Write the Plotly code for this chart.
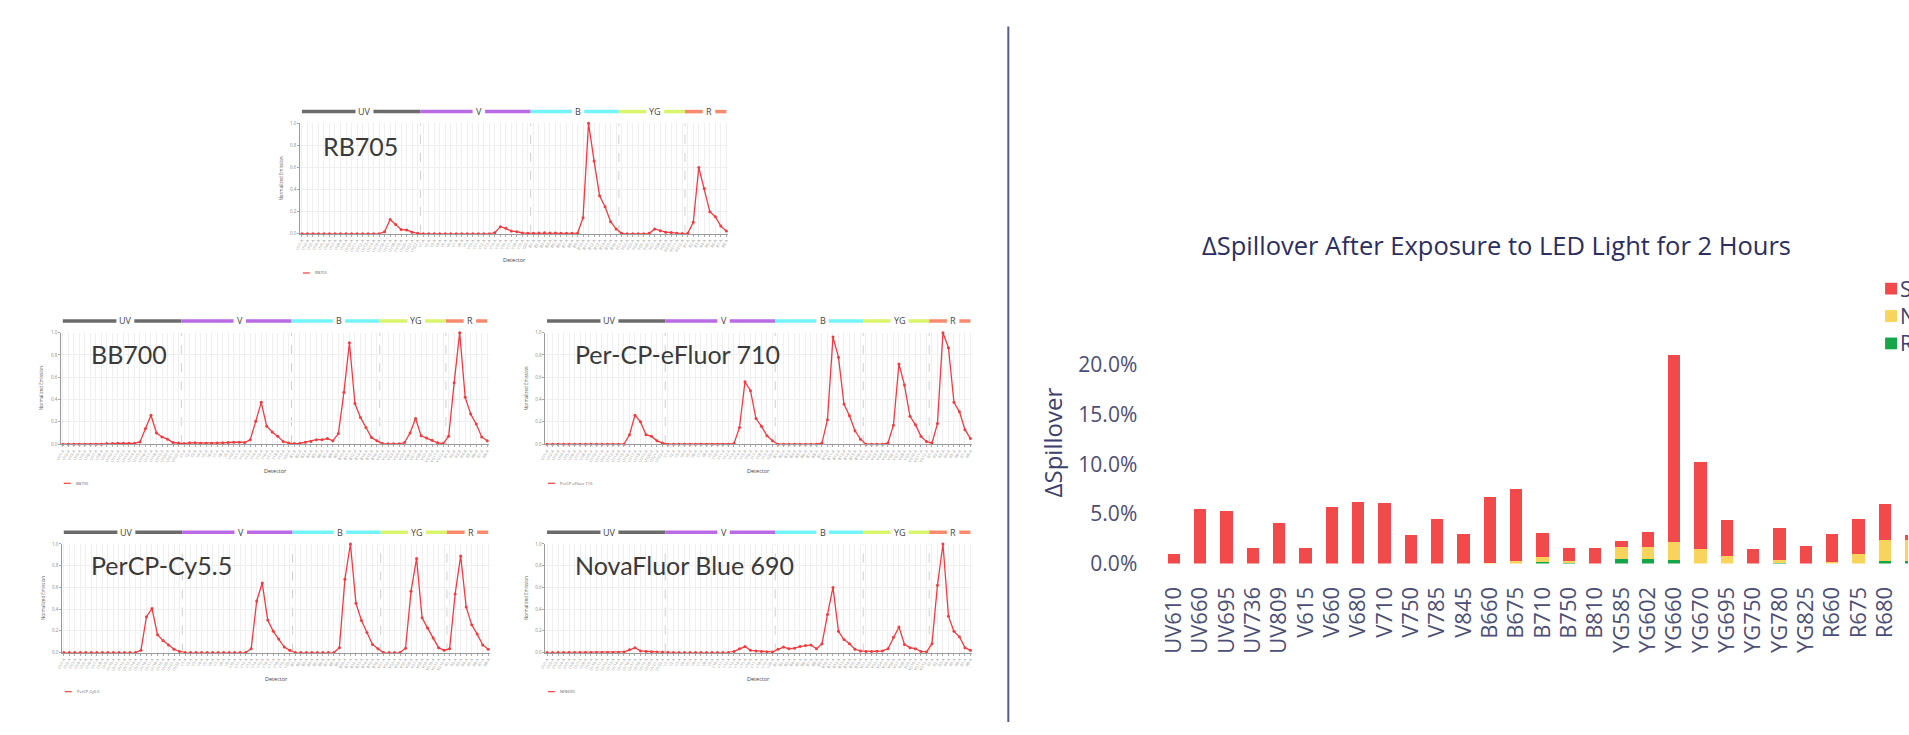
import plotly.graph_objects as go

W, H = 1909, 735

# ---------------- data: spectral signatures ----------------
laser_names = ["UV", "V", "B", "YG", "R"]
laser_counts = [22, 20, 16, 12, 8]
detector_labels = [f"{n}{i}-A" for n, c in zip(laser_names, laser_counts) for i in range(1, c + 1)]

rb705 = [0, 0, 0, 0, 0, 0, 0, 0, 0, 0, 0, 0, 0, 0, 0, 0.02, 0.13, 0.085, 0.04, 0.035, 0.015, 0.005,
         0, 0, 0, 0, 0, 0, 0, 0, 0, 0, 0, 0, 0, 0.01, 0.065, 0.05, 0.025, 0.02, 0.008, 0.005,
         0.005, 0.008, 0.01, 0.008, 0.008, 0.005, 0.005, 0.005, 0.005, 0.145, 1.0, 0.66, 0.345, 0.245, 0.11, 0.045,
         0.005, 0, 0, 0, 0, 0.005, 0.045, 0.028, 0.015, 0.012, 0.005, 0.003,
         0.005, 0.105, 0.60, 0.41, 0.20, 0.155, 0.07, 0.025]
bb700 = [0, 0, 0, 0, 0, 0, 0, 0, 0.005, 0.005, 0.008, 0.008, 0.008, 0.008, 0.02, 0.14, 0.26, 0.10, 0.065, 0.045, 0.015, 0.01,
         0.005, 0.012, 0.012, 0.008, 0.008, 0.008, 0.01, 0.012, 0.015, 0.018, 0.018, 0.015, 0.04, 0.205, 0.375, 0.16, 0.11, 0.07, 0.025, 0.01,
         0.005, 0.008, 0.018, 0.025, 0.04, 0.04, 0.05, 0.03, 0.095, 0.465, 0.91, 0.365, 0.24, 0.15, 0.06, 0.03,
         0.005, 0.003, 0.003, 0.003, 0.015, 0.10, 0.23, 0.075, 0.055, 0.035, 0.012, 0.005,
         0.07, 0.55, 1.0, 0.42, 0.27, 0.18, 0.065, 0.03]
percp_ef710 = [0, 0, 0, 0, 0, 0, 0, 0, 0, 0, 0, 0, 0, 0, 0, 0.085, 0.26, 0.20, 0.085, 0.07, 0.03, 0.01,
               0, 0, 0, 0, 0, 0, 0, 0, 0, 0, 0, 0, 0.005, 0.15, 0.56, 0.48, 0.23, 0.16, 0.075, 0.03,
               0, 0, 0, 0, 0, 0, 0, 0, 0.01, 0.22, 0.96, 0.78, 0.36, 0.255, 0.12, 0.045,
               0, 0, 0, 0, 0.01, 0.17, 0.72, 0.53, 0.25, 0.175, 0.07, 0.025,
               0.01, 0.185, 1.0, 0.865, 0.375, 0.29, 0.13, 0.05]
percp_cy55 = [0, 0, 0, 0, 0, 0, 0, 0, 0, 0, 0, 0, 0, 0, 0.02, 0.33, 0.405, 0.165, 0.11, 0.07, 0.03, 0.01,
              0, 0, 0, 0, 0, 0, 0, 0, 0, 0, 0, 0, 0.035, 0.475, 0.64, 0.30, 0.195, 0.125, 0.05, 0.02,
              0, 0, 0, 0, 0, 0, 0, 0, 0.045, 0.675, 1.0, 0.455, 0.295, 0.185, 0.075, 0.035,
              0, 0, 0, 0, 0.04, 0.565, 0.865, 0.32, 0.225, 0.135, 0.045, 0.02,
              0.035, 0.54, 0.89, 0.42, 0.255, 0.17, 0.07, 0.03]
nf_blue690 = [0, 0, 0, 0, 0, 0, 0, 0, 0, 0, 0, 0, 0, 0, 0.005, 0.025, 0.045, 0.015, 0.01, 0.008, 0.005, 0.003,
              0, 0, 0, 0, 0, 0, 0, 0, 0, 0, 0, 0, 0.01, 0.035, 0.055, 0.02, 0.015, 0.01, 0.005, 0.005,
              0.03, 0.05, 0.035, 0.04, 0.055, 0.065, 0.07, 0.035, 0.08, 0.35, 0.60, 0.195, 0.12, 0.08, 0.03, 0.015,
              0.01, 0.01, 0.012, 0.015, 0.035, 0.14, 0.235, 0.075, 0.045, 0.035, 0.01, 0.005,
              0.08, 0.62, 1.0, 0.335, 0.195, 0.145, 0.045, 0.02]

# ---------------- data: spillover bar chart (percent) ----------------
bar_detectors = ["UV610", "UV660", "UV695", "UV736", "UV809", "V615", "V660", "V680", "V710", "V750",
                 "V785", "V845", "B660", "B675", "B710", "B750", "B810", "YG585", "YG602", "YG660",
                 "YG670", "YG695", "YG750", "YG780", "YG825", "R660", "R675", "R680", "R710"]
green_part = [0, 0, 0, 0, 0, 0, 0, 0, 0, 0, 0, 0, 0, 0, 0.2, 0.1, 0, 0.5, 0.5, 0.4,
              0, 0, 0, 0.1, 0, 0, 0, 0.3, 0.3]
yellow_part = [0, 0, 0, 0, 0, 0, 0, 0, 0, 0, 0, 0, 0.1, 0.25, 0.45, 0.2, 0, 1.2, 1.15, 1.75,
               1.45, 0.8, 0, 0.25, 0, 0.2, 0.95, 2.1, 2.1]
red_part = [1.0, 5.45, 5.3, 1.55, 4.05, 1.6, 5.7, 6.15, 6.1, 2.9, 4.45, 3.0, 6.6, 7.3, 2.45, 1.25, 1.55, 0.55, 1.5, 18.85,
            8.75, 3.55, 1.5, 3.25, 1.75, 2.75, 3.55, 3.6, 0.5]
series_names = ["Sensitive", "Neutral", "Resistant"]
series_colors = ["#f24a4a", "#f8d45c", "#16a64a"]
y_ticks = [0, 5, 10, 15, 20]

# ---------------- helpers ----------------
def xp(px):
    return px / W


def yp(py):
    return 1 - py / H


FONT = "Open Sans, Noto Sans, sans-serif"
LINE_RED = "#f23b3f"
NAVY = "#3d406c"
band_colors = ["#6b6b6b", "#b96ae4", "#72f4fa", "#d9f56c", "#f98b6c"]

fig = go.Figure()
shapes = []
annotations = []

panels = [
    dict(name="RB705", vals=rb705, x0=297, x1=723, ytop=123, ybot=236, lx=316, ly=146),
    dict(name="BB700", vals=bb700, x0=57, x1=483, ytop=337, ybot=451, lx=83, ly=359),
    dict(name="Per-CP-eFluor 710", legend="PerCP-eFluor 710", vals=percp_ef710, x0=543, x1=968, ytop=337, ybot=451, lx=569, ly=359),
    dict(name="PerCP-Cy5.5", vals=percp_cy55, x0=58, x1=484, ytop=553, ybot=664, lx=83, ly=574),
    dict(name="NovaFluor Blue 690", legend="NFB690", vals=nf_blue690, x0=543, x1=968, ytop=553, ybot=664, lx=569, ly=574),
]

n_det = len(detector_labels)
bounds = []
acc = 0
for c in laser_counts:
    bounds.append((acc, acc + c))
    acc += c

layout_axes = {}
for k, p in enumerate(panels, start=1):
    xs = "" if k == 1 else str(k)
    unit = (p["x1"] - p["x0"]) / (n_det - 1)
    pad = 0.3
    dom_x = [xp(p["x0"] - pad * unit), xp(p["x1"] + pad * unit)]
    dom_y = [yp(p["ybot"]), yp(p["ytop"])]
    layout_axes["xaxis" + xs] = dict(
        domain=dom_x, range=[-pad, n_det - 1 + pad], anchor="y" + xs,
        tickmode="array", tickvals=list(range(n_det)), ticktext=detector_labels,
        tickangle=-60, tickfont=dict(size=4, color="#9a9a9a", family=FONT),
        showgrid=True, gridcolor="#efefef", gridwidth=1, zeroline=False,
        showline=True, linecolor="#9a9a9a", linewidth=1, ticks="outside", ticklen=2, tickcolor="#aaa",
        fixedrange=True,
    )
    layout_axes["yaxis" + xs] = dict(
        domain=dom_y, range=[0, 1], anchor="x" + xs,
        tickmode="array", tickvals=[0, 0.2, 0.4, 0.6, 0.8, 1.0],
        ticktext=["0.0", "0.2", "0.4", "0.6", "0.8", "1.0"],
        tickfont=dict(size=4.5, color="#888", family=FONT),
        showgrid=True, gridcolor="#efefef", zeroline=False,
        showline=True, linecolor="#9a9a9a", linewidth=1, ticks="outside", ticklen=2, tickcolor="#aaa",
        fixedrange=True,
    )
    fig.add_trace(go.Scatter(
        x=list(range(n_det)), y=p["vals"], mode="lines+markers",
        line=dict(color=LINE_RED, width=1.3), marker=dict(color=LINE_RED, size=3),
        xaxis="x" + xs, yaxis="y" + xs, showlegend=False, cliponaxis=False,
    ))
    for (a, b) in bounds[:-1]:
        shapes.append(dict(type="line", xref="x" + xs, yref="y" + xs, x0=b - 0.5, x1=b - 0.5, y0=0, y1=1,
                           line=dict(color="#cfcfcf", width=1, dash="dash"), layer="below"))
    bar_y = yp(p["ytop"] - 12)
    for j, ((a, b), nm, col) in enumerate(zip(bounds, laser_names, band_colors)):
        left = a - 0.5 if j > 0 else 0
        right = b - 0.5 if j < len(bounds) - 1 else n_det - 1
        mid = (left + right) / 2 + 0.6
        half_gap = (len(nm) * 5.5 / 2 + 3.5) / unit
        shapes.append(dict(type="line", xref="x" + xs, yref="paper", x0=left, x1=mid - half_gap, y0=bar_y, y1=bar_y,
                           line=dict(color=col, width=3.5)))
        shapes.append(dict(type="line", xref="x" + xs, yref="paper", x0=mid + half_gap, x1=right, y0=bar_y, y1=bar_y,
                           line=dict(color=col, width=3.5)))
        annotations.append(dict(x=mid, xref="x" + xs, y=bar_y, yref="paper", text=nm, showarrow=False,
                                font=dict(size=9, color="#444", family=FONT), xanchor="center", yanchor="middle"))
    annotations.append(dict(x=xp(p["lx"]), y=yp(p["ly"]), xref="paper", yref="paper", text=p["name"],
                            showarrow=False, xanchor="left", yanchor="middle",
                            font=dict(size=25, color="#3a3a3a", family="Lato, Open Sans, sans-serif")))
    annotations.append(dict(x=xp(p["x0"] - 21), y=yp((p["ytop"] + p["ybot"]) / 2), xref="paper", yref="paper",
                            text="Normalized Emission", textangle=-90, showarrow=False,
                            xanchor="center", yanchor="middle",
                            font=dict(size=4.5, color="#555", family=FONT)))
    annotations.append(dict(x=xp((p["x0"] + p["x1"]) / 2), y=yp(p["ybot"] + 27), xref="paper", yref="paper",
                            text="Detector", showarrow=False, xanchor="center", yanchor="middle",
                            font=dict(size=5.5, color="#444", family=FONT)))
    leg_y = p["ybot"] + 40
    shapes.append(dict(type="line", xref="paper", yref="paper", x0=xp(p["x0"] + 1), x1=xp(p["x0"] + 8),
                       y0=yp(leg_y), y1=yp(leg_y), line=dict(color=LINE_RED, width=1.2)))
    annotations.append(dict(x=xp(p["x0"] + 11), y=yp(leg_y), xref="paper", yref="paper",
                            text=p.get("legend", p["name"]), showarrow=False, xanchor="left", yanchor="middle",
                            font=dict(size=4, color="#666", family=FONT)))

# ---------------- divider ----------------
shapes.append(dict(type="line", xref="paper", yref="paper", x0=xp(1006), x1=xp(1006), y0=yp(24), y1=yp(735),
                   line=dict(color="#5a5d87", width=2)))

# ---------------- spillover bar chart ----------------
for vals, nm, col in zip([green_part, yellow_part, red_part], series_names[::-1], series_colors[::-1]):
    fig.add_trace(go.Bar(x=bar_detectors, y=vals, name=nm, marker=dict(color=col, line=dict(width=0)),
                         xaxis="x6", yaxis="y6", showlegend=False))

bar_px = 26.44
first_c = 1172
r0 = -0.7
r1 = (W - first_c) / bar_px
y0px = 573
px_per = 10.15
ymax = 26
layout_axes["xaxis6"] = dict(
    domain=[xp(first_c + r0 * bar_px), 1.0], range=[r0, r1], anchor="y6",
    type="category", categoryorder="array", categoryarray=bar_detectors,
    tickangle=-90, tickfont=dict(size=22, color="#4b4e75", family=FONT),
    showgrid=False, showline=False, zeroline=False, ticks="", ticklabelstandoff=18, fixedrange=True,
)
layout_axes["yaxis6"] = dict(
    domain=[yp(y0px), yp(y0px - ymax * px_per)], range=[0, ymax], anchor="x6",
    tickmode="array", tickvals=y_ticks, ticktext=[f"{v:.1f}%" for v in y_ticks],
    tickfont=dict(size=21, color="#4b4e75", family=FONT),
    showgrid=False, showline=False, zeroline=False, ticks="", ticklabelstandoff=17, fixedrange=True,
)

annotations.append(dict(x=xp(1496), y=yp(247), xref="paper", yref="paper",
                        text="ΔSpillover After Exposure to LED Light for 2 Hours", showarrow=False,
                        xanchor="center", yanchor="middle",
                        font=dict(size=25.5, color="#2b2e5f", family=FONT)))
annotations.append(dict(x=xp(1050), y=yp(449), xref="paper", yref="paper", text="ΔSpillover",
                        textangle=-90, showarrow=False, xanchor="center", yanchor="middle",
                        font=dict(size=24, color=NAVY, family=FONT)))

# manual legend (cut by the right edge, as in the reference)
for i, (nm, col) in enumerate(zip(series_names, series_colors)):
    cy = 292 + 28 * i
    shapes.append(dict(type="rect", xref="paper", yref="paper", x0=xp(1886), x1=xp(1898),
                       y0=yp(cy + 6), y1=yp(cy - 6), fillcolor=col, line=dict(width=0)))
    annotations.append(dict(x=xp(1898.5), y=yp(cy), xref="paper", yref="paper", text=nm, showarrow=False,
                            xanchor="left", yanchor="middle", font=dict(size=21, color=NAVY, family=FONT)))

fig.update_layout(
    width=W, height=H, margin=dict(l=0, r=0, t=0, b=0),
    paper_bgcolor="white", plot_bgcolor="white",
    barmode="stack", bargap=0.534,
    shapes=shapes, annotations=annotations, showlegend=False,
    **layout_axes,
)

fig.write_html("out.html", config={"displayModeBar": False})
